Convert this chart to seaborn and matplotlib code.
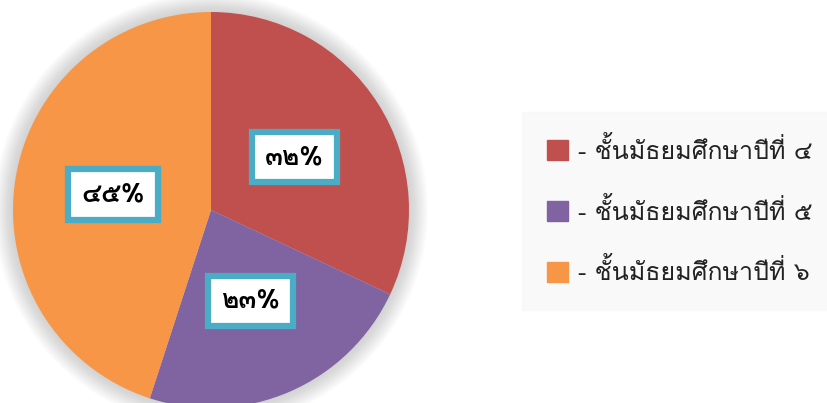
import matplotlib
matplotlib.use("Agg")
import matplotlib.pyplot as plt
from matplotlib.patches import Circle, Patch
import seaborn as sns

# data
grades = ["ชั้นมัธยมศึกษาปีที่ ๔", "ชั้นมัธยมศึกษาปีที่ ๕", "ชั้นมัธยมศึกษาปีที่ ๖"]
shares = [32, 23, 45]
share_labels = ["๓๒%", "๒๓%", "๔๕%"]
colors = ["#c0504d", "#8064a2", "#f79646"]

sns.set_theme(style="white")
plt.rcParams["font.family"] = ["Loma", "DejaVu Sans"]

fig = plt.figure(figsize=(8.27, 4.03), dpi=100)
# pie area: center ~ (211, 210) px from top-left, radius ~198 px
ax = fig.add_axes([13 / 827, (403 - 408) / 403, 396 / 827, 396 / 403])

# soft shadow around the pie
for i in range(16):
    r = 1.0 + 0.006 * (i + 1)
    ax.add_patch(Circle((0, 0), r, color="#888888", alpha=0.022, lw=0,
                        zorder=0, clip_on=False))

wedges, texts = ax.pie(shares, colors=colors, startangle=90, counterclock=False,
                       radius=1, labels=share_labels, labeldistance=0.5,
                       wedgeprops=dict(linewidth=0, zorder=2),
                       textprops=dict(fontsize=19, fontweight="bold", color="black",
                                      ha="center", va="center"))
for t in texts:
    t.set_zorder(5)
    t.set_bbox(dict(boxstyle="square,pad=0.5", fc="white", ec="#4bacc6", lw=4.5))

ax.set_xlim(-1, 1)
ax.set_ylim(-1, 1)
ax.set_aspect("equal")
ax.axis("off")

handles = [Patch(color=c) for c in colors]
leg = fig.legend(handles, ["- " + g for g in grades], loc="center left",
                 bbox_to_anchor=(529 / 827, 0.476), frameon=True, fontsize=18,
                 handlelength=0.85, handleheight=0.85, handletextpad=0.4,
                 labelspacing=1.35, borderpad=0.7, borderaxespad=0)
leg.get_frame().set_facecolor("#f8f8f8")
leg.get_frame().set_edgecolor("#f8f8f8")
leg.get_frame().set_boxstyle("square")
for t in leg.get_texts():
    t.set_color("#222222")

fig.savefig("out.png", dpi=100)
